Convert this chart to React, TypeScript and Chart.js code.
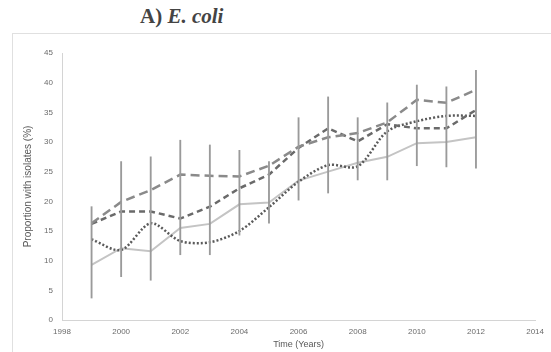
import React, { useEffect, useRef } from "react";
import { Chart, registerables } from "chart.js";

Chart.register(...registerables);

const years = [1999, 2000, 2001, 2002, 2003, 2004, 2005, 2006, 2007, 2008, 2009, 2010, 2011, 2012];
const seriesLongDash = [16.3, 19.9, 21.9, 24.5, 24.3, 24.2, 26.0, 29.2, 30.8, 31.5, 33.3, 37.1, 36.6, 38.8];
const seriesDash = [16.2, 18.3, 18.3, 17.1, 19.1, 22.2, 24.5, 29.0, 32.3, 30.1, 33.0, 32.3, 32.3, 35.4];
const seriesDotted = [13.6, 11.8, 16.3, 13.3, 13.1, 15.0, 19.0, 23.3, 26.1, 25.9, 31.8, 33.5, 34.4, 34.4];
const seriesLight = [9.3, 12.1, 11.6, 15.5, 16.2, 19.5, 19.8, 23.5, 25.0, 26.5, 27.5, 29.8, 30.0, 30.8];
const errLow = [3.7, 7.3, 6.7, 11.0, 11.0, 14.3, 16.3, 20.2, 21.4, 23.6, 23.6, 26.0, 25.8, 25.6];
const errHigh = [19.1, 26.7, 27.5, 30.3, 29.5, 28.6, 26.7, 34.1, 37.6, 34.1, 36.6, 39.6, 39.3, 42.1];
const xTicks = [1998, 2000, 2002, 2004, 2006, 2008, 2010, 2012, 2014];
const yMin = 0;
const yMax = 45;
const yStep = 5;
const yTitle = "Proportion with isolates (%)";
const xTitle = "Time (Years)";

const pts = (vals: number[]) => years.map((y, i) => ({ x: y, y: vals[i] }));

export default function App() {
  const ref = useRef<HTMLCanvasElement>(null);
  useEffect(() => {
    document.body.style.margin = "0";
    const ctx = ref.current!;
    const tickFont = { family: "Liberation Sans, Arial, sans-serif", size: 8 };
    const chart = new Chart(ctx, {
      type: "line",
      data: {
        datasets: [
          {
            type: "line",
            data: pts(seriesLongDash),
            borderColor: "#8a8a8a",
            borderWidth: 2.5,
            borderDash: [9, 5],
            pointRadius: 0,
            tension: 0,
            order: 1,
          },
          {
            type: "line",
            data: pts(seriesDash),
            borderColor: "#6a6a6a",
            borderWidth: 2.5,
            borderDash: [6, 4],
            pointRadius: 0,
            tension: 0,
            order: 2,
          },
          {
            type: "line",
            data: pts(seriesDotted),
            borderColor: "#5a5a5a",
            borderWidth: 2.5,
            borderDash: [2, 2],
            pointRadius: 0,
            tension: 0.3,
            order: 3,
          },
          {
            type: "line",
            data: pts(seriesLight),
            borderColor: "#c4c4c4",
            borderWidth: 2,
            pointRadius: 0,
            tension: 0,
            order: 4,
          },
          {
            type: "bar",
            data: years.map((y, i) => ({ x: y, y: [errLow[i], errHigh[i]] })) as any,
            backgroundColor: "#9a9a9a",
            barThickness: 1.2,
            grouped: false,
            order: 0,
          } as any,
        ],
      },
      options: {
        animation: false,
        responsive: false,
        events: [],
        layout: { padding: { top: 19, right: 8, left: 0, bottom: 0 } },
        plugins: { legend: { display: false }, tooltip: { enabled: false } },
        scales: {
          x: {
            type: "linear",
            min: 1998,
            max: 2014,
            offset: false,
            grid: { display: false, drawTicks: false, offset: false },
            border: { display: true, color: "#d4d4d4", width: 1 },
            afterBuildTicks: (s: any) => {
              s.ticks = xTicks.map((v) => ({ value: v }));
            },
            afterFit: (s: any) => {
              s.height = 32;
            },
            ticks: {
              font: tickFont,
              color: "#6b6b6b",
              padding: 7,
              maxRotation: 0,
              autoSkip: false,
              callback: (v: any) => String(v),
            },
            title: {
              display: true,
              text: xTitle,
              font: { family: "Liberation Sans, Arial, sans-serif", size: 9 },
              color: "#595959",
              padding: { top: 0, bottom: 2 },
            },
          },
          y: {
            type: "linear",
            min: yMin,
            max: yMax,
            grid: { display: false, drawTicks: false },
            border: { display: true, color: "#d4d4d4", width: 1 },
            afterFit: (s: any) => {
              s.width = 49;
            },
            ticks: {
              stepSize: yStep,
              font: tickFont,
              color: "#6b6b6b",
              padding: 9,
            },
            title: {
              display: true,
              text: yTitle,
              font: { family: "Liberation Sans, Arial, sans-serif", size: 10 },
              color: "#595959",
              padding: { top: 9, bottom: 0 },
            },
          },
        },
      } as any,
    });
    return () => chart.destroy();
  }, []);

  return (
    <div style={{ position: "relative", width: 551, height: 352, background: "#fff", overflow: "hidden" }}>
      <div
        style={{
          position: "absolute",
          left: 140,
          top: 5,
          fontFamily: "'Liberation Serif', 'Times New Roman', serif",
          fontSize: 21,
          fontWeight: "bold",
          color: "#444",
          lineHeight: "22px",
          whiteSpace: "nowrap",
        }}
      >
        A) <i>E. coli</i>
      </div>
      <div
        style={{
          position: "absolute",
          left: 12,
          top: 33,
          width: 545,
          height: 330,
          border: "1px solid #e0e0e0",
          boxSizing: "border-box",
        }}
      />
      <canvas
        ref={ref}
        width={538}
        height={318}
        style={{ position: "absolute", left: 13, top: 34, width: 538, height: 318 }}
      />
    </div>
  );
}
